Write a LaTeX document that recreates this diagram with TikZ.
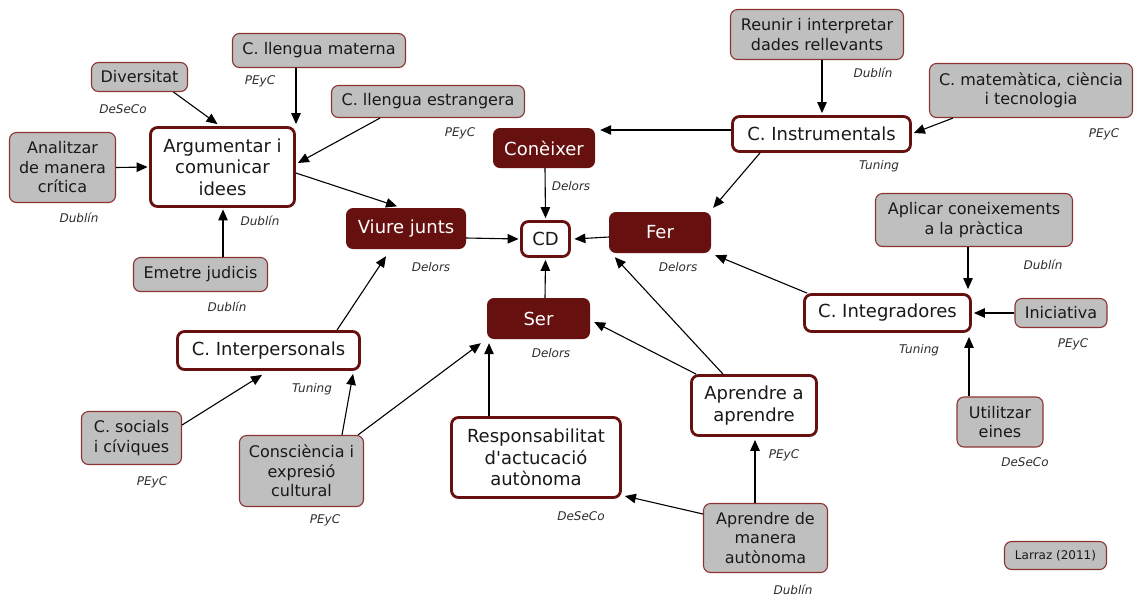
\documentclass[tikz,border=0pt]{standalone}
\usepackage{fontspec}
\setmainfont{DejaVu Sans}
% a family without TeX ligatures keeps the apostrophe straight
\newfontfamily\dvs{DejaVu Sans}
\usetikzlibrary{arrows.meta}
\definecolor{dred}{RGB}{102,16,16}
\definecolor{gfill}{RGB}{191,191,191}
\definecolor{gline}{RGB}{140,52,52}
\definecolor{lblcol}{RGB}{45,45,45}
\tikzset{
  wbox/.style={draw=dred, line width=2.8pt, fill=white, rounded corners=7pt,
    align=center, inner sep=0pt, text=black!90, font=\dvs\fontsize{18}{21.5}\selectfont},
  gbox/.style={draw=gline, line width=1.1pt, fill=gfill, rounded corners=7pt,
    align=center, inner sep=0pt, text=black!90, font=\dvs\fontsize{16}{19.5}\selectfont},
  rbox/.style={fill=dred, rounded corners=7pt, align=center, inner sep=0pt,
    text=white, font=\dvs\fontsize{18}{21.5}\selectfont},
  lbl/.style={text=lblcol, inner sep=0pt, font=\dvs\fontsize{12}{14}\selectfont\itshape},
  arr/.style={-{Triangle[length=11pt,width=9.5pt]}, line width=1.1pt, black},
}
\begin{document}
\begin{tikzpicture}[x=1pt,y=-1pt]
\useasboundingbox (0,0) rectangle (1134,598);

% central concept and the four pillars
\node[wbox, minimum width=48, minimum height=35] (cd) at (545.5,239) {CD};
\node[rbox, minimum width=102, minimum height=40] (con) at (544,148) {Conèixer};
\node[rbox, minimum width=120, minimum height=41] (viu) at (406,228.5) {Viure junts};
\node[rbox, minimum width=102, minimum height=41] (fer) at (660,232.5) {Fer};
\node[rbox, minimum width=103, minimum height=41] (ser) at (538.5,318.5) {Ser};

% competence groups
\node[wbox, minimum width=144, minimum height=79] (arg) at (222.5,167) {Argumentar i\\comunicar\\idees};
\node[wbox, minimum width=178, minimum height=35] (inst) at (821.5,134) {C. Instrumentals};
\node[wbox, minimum width=166, minimum height=37] (integ) at (887.5,313) {C. Integradores};
\node[wbox, minimum width=182, minimum height=38] (inter) at (268.5,350.5) {C. Interpersonals};
\node[wbox, minimum width=169, minimum height=80] (resp) at (536,457.5) {Responsabilitat\\d'actucació\\autònoma};
\node[wbox, minimum width=125, minimum height=60] (apaa) at (754,405.5) {Aprendre a\\aprendre};

% specific competences
\node[gbox, minimum width=96, minimum height=29] (div) at (139.5,77) {Diversitat};
\node[gbox, minimum width=173, minimum height=34] (lmat) at (319,50.5) {C. llengua materna};
\node[gbox, minimum width=193, minimum height=32] (lest) at (428,101.5) {C. llengua estrangera};
\node[gbox, minimum width=106, minimum height=70] (anal) at (62.5,167.5) {Analitzar\\de manera\\crítica};
\node[gbox, minimum width=134, minimum height=34] (emet) at (200.5,274.5) {Emetre judicis};
\node[gbox, minimum width=173, minimum height=50] (reun) at (817,34.5) {Reunir i interpretar\\dades rellevants};
\node[gbox, minimum width=203, minimum height=54] (mat) at (1031,90.5) {C. matemàtica, ciència\\i tecnologia};
\node[gbox, minimum width=197, minimum height=53] (apl) at (974,220) {Aplicar coneixements\\a la pràctica};
\node[gbox, minimum width=92, minimum height=29] (inic) at (1061,313) {Iniciativa};
\node[gbox, minimum width=86, minimum height=50] (util) at (1000,422) {Utilitzar\\eines};
\node[gbox, minimum width=124, minimum height=69] (apam) at (765.5,538) {Aprendre de\\manera\\autònoma};
\node[gbox, minimum width=100, minimum height=53] (soc) at (131.5,438) {C. socials\\i cíviques};
\node[gbox, minimum width=124, minimum height=71] (cons) at (301.5,471) {Consciència i\\expresió\\cultural};
\node[gbox, minimum width=102, minimum height=28, font=\dvs\fontsize{12}{14.5}\selectfont] (larr) at (1055.5,555.5) {Larraz (2011)};

% source labels
\node[lbl] (l1) at (123,109) {DeSeCo};
\node[lbl] (l2) at (260,81) {PEyC};
\node[lbl] (l3) at (460,133) {PEyC};
\node[lbl] (l4) at (79,218) {Dublín};
\node[lbl] (l5) at (260,221) {Dublín};
\node[lbl] (l6) at (227,307) {Dublín};
\node[lbl] (l7) at (571,186) {Delors};
\node[lbl] (l8) at (431,267) {Delors};
\node[lbl] (l9) at (678,267) {Delors};
\node[lbl] (l10) at (551,353) {Delors};
\node[lbl] (l11) at (873,73) {Dublín};
\node[lbl] (l12) at (1104,134) {PEyC};
\node[lbl] (l13) at (879,166) {Tuning};
\node[lbl] (l14) at (1043,265) {Dublín};
\node[lbl] (l15) at (919,350) {Tuning};
\node[lbl] (l16) at (1073,344) {PEyC};
\node[lbl] (l17) at (1025,462) {DeSeCo};
\node[lbl] (l18) at (784,455) {PEyC};
\node[lbl] (l19) at (581,516) {DeSeCo};
\node[lbl] (l20) at (793,590) {Dublín};
\node[lbl] (l21) at (312,389) {Tuning};
\node[lbl] (l22) at (152,482) {PEyC};
\node[lbl] (l23) at (325,520) {PEyC};

% connectors
\draw[arr] ([shift={(34,0)}]div.south) -- ([shift={(-5,-2)}]arg.north);
\draw[arr] ([shift={(-23,0)}]lmat.south) -- ([shift={(73.5,-2)}]arg.north);
\draw[arr] ([shift={(-48,0)}]lest.south) -- ([shift={(2,-4)}]arg.east);
\draw[arr] (anal.east) -- ([shift={(-1.5,0)}]arg.west);
\draw[arr] ([shift={(22.5,0)}]emet.north) -- ([shift={(0.5,1.5)}]arg.south);
\draw[arr] ([shift={(0,6)}]arg.east) -- ([shift={(-9,-1.5)}]viu.north);

\draw[arr] ([shift={(0,-4)}]inst.west) -- ([shift={(5,-18)}]con.east);
\draw[arr] ([shift={(5,0)}]reun.south) -- ([shift={(0.5,-2)}]inst.north);
\draw[arr] ([shift={(-78,0)}]mat.south) -- ([shift={(2,-1)}]inst.east);
\draw[arr] ([shift={(-61.5,0)}]inst.south) -- ([shift={(2,-4)}]fer.north east);

\draw[arr] ([shift={(1,0)}]con.south) -- ([shift={(0,-2)}]cd.north);
\draw[arr] ([shift={(0,9.5)}]viu.east) -- ([shift={(-1.5,0)}]cd.west);
\draw[arr] ([shift={(0,4.5)}]fer.west) -- ([shift={(3.5,0)}]cd.east);
\draw[arr] ([shift={(6.5,0)}]ser.north) -- ([shift={(0,2)}]cd.south);

\draw[arr] ([shift={(-6,0)}]apl.south) -- ([shift={(80.5,-4)}]integ.north);
\draw[arr] (inic.west) -- ([shift={(2,0)}]integ.east);
\draw[arr] ([shift={(-31,0)}]util.north) -- ([shift={(81.5,4)}]integ.south);
\draw[arr] ([shift={(4,0)}]integ.north west) -- ([shift={(4,2)}]fer.south east);

\draw[arr] ([shift={(-31,0)}]apaa.north) -- ([shift={(6,4)}]fer.south west);
\draw[arr] ([shift={(6,0)}]apaa.north west) -- ([shift={(4,3.5)}]ser.east);
\draw[arr] ([shift={(68.5,0)}]inter.north) -- ([shift={(-20,7)}]viu.south);
\draw[arr] ([shift={(0,-13)}]soc.east) -- ([shift={(-6.5,4)}]inter.south);
\draw[arr] ([shift={(40.5,0)}]cons.north) -- ([shift={(84.5,3)}]inter.south);
\draw[arr] ([shift={(56.5,0)}]cons.north) -- ([shift={(-6,4)}]ser.south west);
\draw[arr] ([shift={(-47,0)}]resp.north) -- ([shift={(-49.5,4)}]ser.south);
\draw[arr] ([shift={(-10.5,0)}]apam.north) -- ([shift={(1,3)}]apaa.south);
\draw[arr] ([shift={(0,-24)}]apam.west) -- ([shift={(3,38.5)}]resp.east);
\end{tikzpicture}
\end{document}
